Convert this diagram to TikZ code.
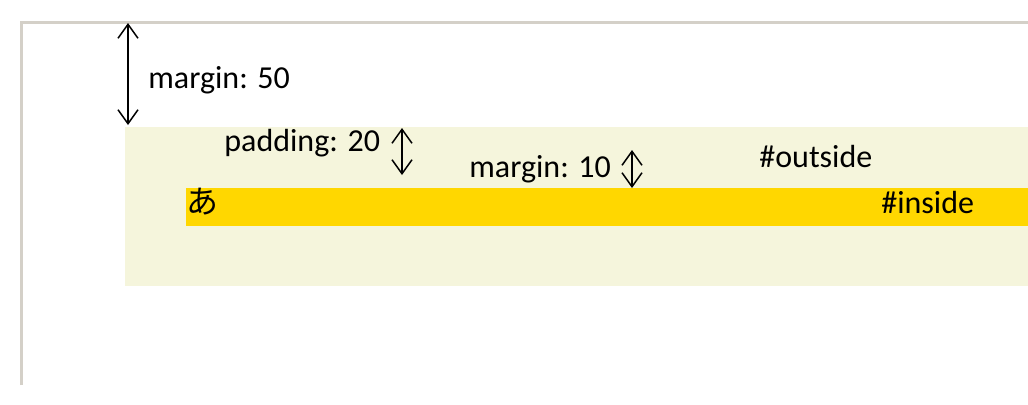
\documentclass[tikz,border=0pt]{standalone}
\usepackage{fontspec}
\setmainfont{Carlito}
\newfontfamily\jpfont{Noto Sans CJK JP}
\usetikzlibrary{arrows.meta}
\definecolor{framegray}{HTML}{D4D0C8}
\definecolor{outsidebg}{HTML}{F5F5DC}
\definecolor{insidebg}{HTML}{FFD700}
\begin{document}
\begin{tikzpicture}[x=0.5pt,y=-0.5pt,
  label/.style={anchor=base west,inner sep=0pt,font=\fontsize{16}{18}\selectfont},
  dim/.style={line width=0.75pt,{Straight Barb[length=7pt,width=10pt,line width=0.75pt]}-{Straight Barb[length=7pt,width=10pt,line width=0.75pt]}}]
  \useasboundingbox (0,0) rectangle (1028,404);
  % window frame
  \draw[framegray,line width=1.5pt] (21,385) -- (21,22) -- (1028,22);
  % #outside box
  \fill[outsidebg] (125,127) rectangle (1028,286);
  % #inside box
  \fill[insidebg] (186,188) rectangle (1028,226);
  % labels
  \node[label] (m50) at (148,88) {margin: 50};
  \node[label] (p20) at (224,151) {padding: 20};
  \node[label] (m10) at (469,177) {margin: 10};
  \node[label] (outl) at (759,167) {\#outside};
  \node[label] (inl) at (881,213) {\#inside};
  \node[label] (ja) at (186,213) {\jpfont あ};
  % dimension arrows
  \coordinate (m50a) at (128,23);
  \coordinate (m50b) at (128,125);
  \coordinate (p20a) at (402,128);
  \coordinate (p20b) at (402,175);
  \coordinate (m10a) at (632,150);
  \coordinate (m10b) at (632,188);
  \draw[dim] (m50a) -- (m50b);
  \draw[dim] (p20a) -- (p20b);
  \draw[dim] (m10a) -- (m10b);
\end{tikzpicture}
\end{document}
